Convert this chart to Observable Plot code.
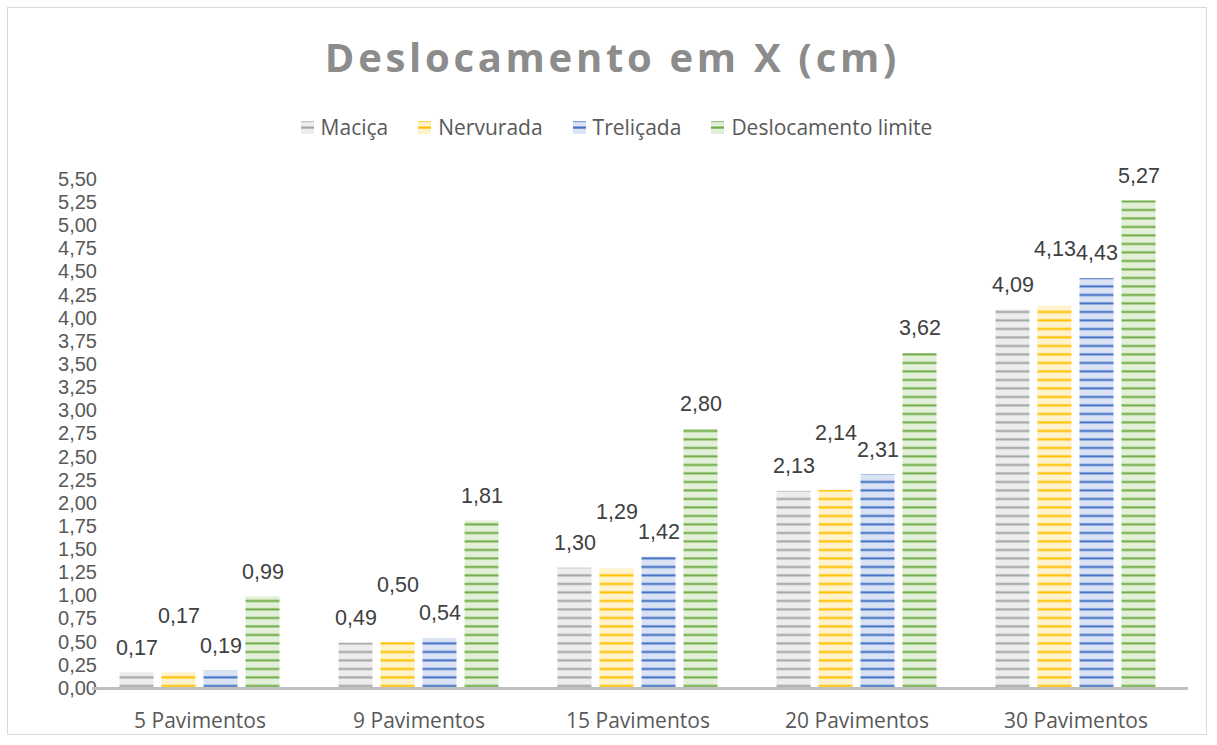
<!DOCTYPE html>
<html>
<head>
<meta charset="utf-8">
<script src="https://cdn.jsdelivr.net/npm/d3@7"></script>
<script src="https://cdn.jsdelivr.net/npm/@observablehq/plot@0.6"></script>
<style>
  body { margin: 0; background: #fff; font-family: "Open Sans", sans-serif; }
  #wrap { position: relative; width: 1217px; height: 745px; overflow: hidden; }
  #border { position: absolute; left: 7px; top: 7px; width: 1200px; height: 728px; border: 1.5px solid #d9d9d9; box-sizing: border-box; }
  #title { position: absolute; left: 0; width: 1217px; top: 30px; text-align: center; font-size: 40px; font-weight: 700; letter-spacing: 3.7px; color: #8c8c8c; line-height: 54px; padding-left: 8px; box-sizing: border-box; }
  #legend { position: absolute; left: 8px; width: 1217px; top: 113px; display: flex; justify-content: center; align-items: center; font-size: 21px; color: #595959; line-height: 28px; }
  .item { display: flex; align-items: center; margin: 0 15px; }
  .item svg { margin-right: 7px; }
  #chart { position: absolute; left: 0; top: 150px; }
</style>
</head>
<body>
<div id="wrap">
  <svg width="0" height="0" style="position:absolute">
    <defs id="pdefs"></defs>
  </svg>
  <div id="border"></div>
  <div id="title">Deslocamento em X (cm)</div>
  <div id="legend"></div>
  <div id="chart"></div>
</div>
<script>
// ---- Data ----
const categories = ["5 Pavimentos", "9 Pavimentos", "15 Pavimentos", "20 Pavimentos", "30 Pavimentos"];
const series = ["Maciça", "Nervurada", "Treliçada", "Deslocamento limite"];
const macica = [0.17, 0.49, 1.30, 2.13, 4.09];
const nervurada = [0.17, 0.50, 1.29, 2.14, 4.13];
const trelicada = [0.19, 0.54, 1.42, 2.31, 4.43];
const limite = [0.99, 1.81, 2.80, 3.62, 5.27];
const yTicks = [0, 0.25, 0.5, 0.75, 1, 1.25, 1.5, 1.75, 2, 2.25, 2.5, 2.75, 3, 3.25, 3.5, 3.75, 4, 4.25, 4.5, 4.75, 5, 5.25, 5.5];

// ---- Styles ----
const stripeColors = ["#a5a5a5", "#ffc000", "#4472c4", "#70ad47"];
const fillColors = ["#ededed", "#fff2cc", "#dae3f3", "#e2f0d9"];

const valuesBySeries = [macica, nervurada, trelicada, limite];
const data = [];
series.forEach((s, si) => {
  categories.forEach((c, ci) => {
    data.push({cat: c, series: s, si, value: valuesBySeries[si][ci]});
  });
});

const fmt = v => d3.format(".2f")(v).replace(".", ",");

// patterns
const defs = d3.select("#pdefs");
series.forEach((s, i) => {
  const p = defs.append("pattern")
    .attr("id", "pat" + i)
    .attr("patternUnits", "userSpaceOnUse")
    .attr("x", 0).attr("y", 3)
    .attr("width", 8).attr("height", 8.5);
  p.append("rect").attr("width", 8).attr("height", 8.5).attr("fill", fillColors[i]);
  p.append("rect").attr("y", 5).attr("width", 8).attr("height", 2).attr("fill", stripeColors[i]);
  p.append("rect").attr("y", 4.5).attr("width", 8).attr("height", 0.6).attr("fill", stripeColors[i]).attr("opacity", 0.4);
});

// legend
const legend = d3.select("#legend");
series.forEach((s, i) => {
  const it = legend.append("div").attr("class", "item");
  const sv = it.append("svg").attr("width", 13).attr("height", 13);
  sv.append("rect").attr("width", 13).attr("height", 13).attr("fill", fillColors[i]);
  sv.append("rect").attr("y", 5.5).attr("width", 13).attr("height", 2.2).attr("fill", stripeColors[i]);
  sv.append("rect").attr("y", 0).attr("width", 13).attr("height", 1.2).attr("fill", stripeColors[i]).attr("opacity", 0.6);
  it.append("span").text(s);
});

const W = 1217, H = 595;
const marks = [];
series.forEach((s, i) => {
  const d = data.filter(r => r.series === s);
  marks.push(Plot.barY(d, {fx: "cat", x: "series", y: "value", fill: `url(#pat${i})`}));
  marks.push(Plot.text(d, {
    fx: "cat", x: "series", y: "value", text: r => fmt(r.value),
    dy: s === "Nervurada" ? -57 : -25,
    fontSize: 21.5, fill: "#404040", fontFamily: "Liberation Sans"
  }));
});

const chart = Plot.plot({
  width: W,
  height: H,
  marginTop: 29,
  marginBottom: 57,
  marginLeft: 89.5,
  marginRight: 31,
  style: {fontFamily: "Open Sans", background: "transparent", overflow: "visible"},
  fx: {domain: categories, paddingInner: 0.257, paddingOuter: 0.1285, label: null, axis: null},
  x: {domain: series, paddingInner: 0.18, paddingOuter: 0, axis: null},
  y: {domain: [0, 5.5], axis: null},
  marks: [
    ...marks,
    Plot.axisY({ticks: yTicks, tickFormat: fmt, tickSize: 0, tickPadding: 21.5, fontSize: 20, color: "#595959", label: null, fontFamily: "Liberation Sans"}),
    Plot.axisFx({anchor: "bottom", tickSize: 0, tickPadding: 25, fontSize: 21, color: "#595959", label: null, fontFamily: "Open Sans"})
  ]
});
document.getElementById("chart").appendChild(chart);

// baseline along the category axis
const ys = chart.scale("y");
const y0 = ys.apply(0);
d3.select(chart).append("line")
  .attr("x1", 92).attr("x2", 1188)
  .attr("y1", y0 + 0.5).attr("y2", y0 + 0.5)
  .attr("stroke", "#bfbfbf").attr("stroke-width", 3);
</script>
</body>
</html>
